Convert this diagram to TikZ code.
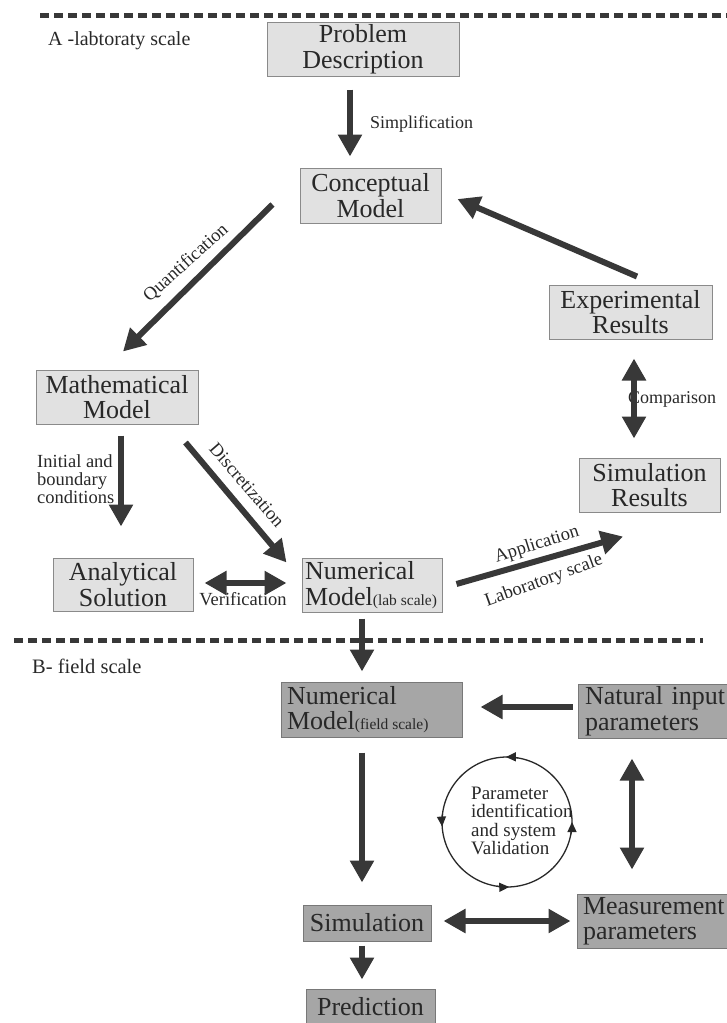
\documentclass[tikz,border=0pt]{standalone}
\usepackage{fontspec}
\setmainfont{Liberation Serif}
\usetikzlibrary{arrows.meta,calc}
\definecolor{lightfill}{HTML}{E1E1E1}
\definecolor{lightline}{HTML}{8A8A8A}
\definecolor{darkfill}{HTML}{A6A6A6}
\definecolor{darkline}{HTML}{787878}
\definecolor{ink}{HTML}{282828}
\definecolor{arrcol}{HTML}{383838}
\newcommand{\boxfont}{\fontsize{26}{25.5}\selectfont}
\newcommand{\labfont}{\fontsize{18.5}{18}\selectfont}
\newcommand{\smallscale}{\fontsize{15.5}{16}\selectfont}
\begin{document}
\begin{tikzpicture}[x=1pt,y=-1pt,
  lbox/.style={draw=lightline, fill=lightfill, line width=1pt, inner sep=0pt, font=\boxfont, text=ink, align=center},
  dbox/.style={draw=darkline, fill=darkfill, line width=1pt, inner sep=0pt, font=\boxfont, text=ink},
  lab/.style={font=\labfont, text=ink, inner sep=0pt},
  arr/.style={draw=arrcol, line width=6pt, -{Triangle[length=22pt,width=23pt]}},
  darr/.style={draw=arrcol, line width=6pt, {Triangle[length=22pt,width=23pt]}-{Triangle[length=22pt,width=23pt]}},
  sepline/.style={draw=arrcol, line width=5pt, dash pattern=on 9pt off 5pt},
  circline/.style={draw=ink, line width=1.3pt},
  cyctip/.style={circline, -{Triangle[length=10pt,width=9pt]}}
]
\useasboundingbox (0,0) rectangle (727,1023);

% separator lines
\coordinate (d1a) at (40,15);
\coordinate (d1b) at (735,15);
\coordinate (d2a) at (14,640);
\coordinate (d2b) at (703,640);
\draw[sepline] (d1a) -- (d1b);
\draw[sepline] (d2a) -- (d2b);

% section labels
\node[lab, font=\fontsize{20}{20}\selectfont, anchor=base west] (secA) at (48,45) {A -labtoraty scale};
\node[lab, font=\fontsize{20.5}{20}\selectfont, anchor=base west] (secB) at (32,673) {B- field scale};

% lab-scale boxes
\node[lbox, minimum width=192, minimum height=54] (prob) at (363,49) {Problem\\Description};
\node[lbox, minimum width=141, minimum height=55] (conc) at (370.5,195.5) {Conceptual\\Model};
\node[lbox, minimum width=163, minimum height=54] (expt) at (630.5,312) {Experimental\\Results};
\node[lbox, minimum width=162, minimum height=54] (math) at (117,397) {Mathematical\\Model};
\node[lbox, minimum width=141, minimum height=54] (simres) at (649.5,485) {Simulation\\Results};
\node[lbox, minimum width=140, minimum height=53] (anal) at (123,584.5) {Analytical\\Solution};
\node[lbox, minimum width=140, minimum height=54, text width=134, align=left] (numlab) at (372,585) {Numerical\\\mbox{Model{\smallscale(lab\hspace{0.25em}scale)}}};

% field-scale boxes
\node[dbox, minimum width=181, minimum height=55, text width=169, align=left] (numfield) at (371.5,709.5) {Numerical\\\mbox{Model{\smallscale(field\hspace{0.25em}scale)}}};
\node[dbox, minimum width=157, minimum height=54, text width=143, align=left] (natin) at (656.5,711) {\mbox{Natural input}\\parameters};
\node[dbox, minimum width=128, minimum height=36, align=center] (sim) at (367,923) {Simulation};
\node[dbox, minimum width=158, minimum height=54, text width=146, align=left] (meas) at (656,921) {\mbox{Measurement}\\parameters};
\node[dbox, minimum width=129, minimum height=36, align=center] (pred) at (370.5,1007) {Prediction};

% connector labels
\node[lab, font=\fontsize{18}{18}\selectfont, anchor=base west] (lsimp) at (370,128) {Simplification};
\node[lab, rotate=42] (lquant) at (186,263) {Quantification};
\node[lab, rotate=-49] (ldisc) at (247,485) {Discretization};
\node[lab, anchor=base] (lverif) at (243,605) {Verification};
\node[lab, rotate=17.5] (lappl) at (537,545) {Application};
\node[lab, rotate=20] (llab) at (544,581) {Laboratory scale};
\node[lab, font=\fontsize{18}{18}\selectfont, anchor=base west] (lcomp) at (628,403) {Comparison};
\node[lab, align=left, anchor=north west] (linit) at (37,454) {Initial and\\boundary\\conditions};

% connectors
\draw[arr] ($(prob.south)+(-13,13)$) -- ($(conc.north)+(-20.5,-11)$);
\draw[arr] ($(conc.south west)+(-27,-19)$) -- ($(math.north)+(6,-18)$);
\draw[arr] ($(expt.north)+(6.5,-8)$) -- ($(conc.east)+(16,3.5)$);
\draw[darr] ($(expt.south)+(3.5,19)$) -- ($(simres.north)+(-15.5,-19)$);
\draw[arr] ($(math.south)+(4,11)$) -- ($(anal.north)+(-2,-31)$);
\draw[arr] ($(math.south east)+(-13,18)$) -- ($(numlab.north west)+(-15,5)$);
\draw[darr] ($(anal.east)+(11,-1.5)$) -- ($(numlab.west)+(-15,-2)$);
\draw[arr] ($(numlab.east)+(14,-1)$) -- ($(simres.south)+(-26.5,24)$);
\draw[arr] ($(numlab.south)+(-10,6)$) -- ($(numfield.north)+(-9.5,-10)$);
\draw[arr] ($(natin.west)+(-5,-4)$) -- ($(numfield.east)+(18,-2.5)$);
\draw[arr] ($(numfield.south)+(-9.5,15)$) -- ($(sim.north)+(-5,-22)$);
\draw[darr] ($(natin.south)+(-24.5,20)$) -- ($(meas.north)+(-24,-24)$);
\draw[darr] ($(sim.east)+(12,-2)$) -- ($(meas.west)+(-6,0)$);
\draw[arr] ($(sim.south)+(-5,4)$) -- ($(pred.north)+(-8.5,-9)$);

% validation cycle
\node[circle, circline, minimum size=130, inner sep=0pt] (cyc) at (507,822) {};
\node[lab, font=\fontsize{19}{18.3}\selectfont, align=left, anchor=north west] (cyctext) at (471,787) {Parameter\\identification\\and system\\Validation};
\draw[cyctip] ([shift={(-80:65)}]cyc.center) arc[start angle=-80, end angle=-91, radius=65];
\draw[cyctip] ([shift={(187:65)}]cyc.center) arc[start angle=187, end angle=176, radius=65];
\draw[cyctip] ([shift={(11:65)}]cyc.center) arc[start angle=11, end angle=0, radius=65];
\draw[cyctip] ([shift={(99:65)}]cyc.center) arc[start angle=99, end angle=88, radius=65];
\end{tikzpicture}
\end{document}
